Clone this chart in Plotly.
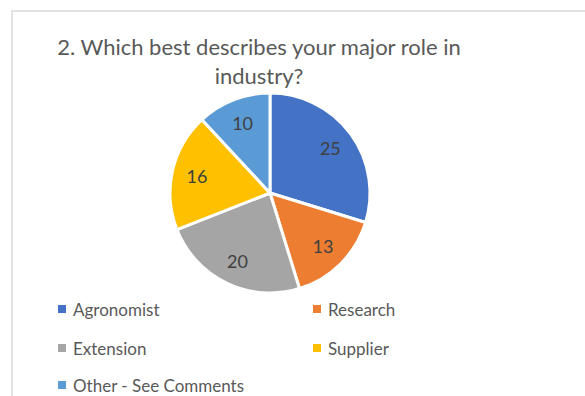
import plotly.graph_objects as go

labels = ["Agronomist", "Research", "Extension", "Supplier", "Other - See Comments"]
values = [25, 13, 20, 16, 10]
colors = ["#4472C4", "#ED7D31", "#A5A5A5", "#FFC000", "#5B9BD5"]
title_text = "2. Which best describes your major role in<br>industry?"

W, H = 585, 396
FONT = "Lato, 'Open Sans', sans-serif"
dom = dict(x=[170 / W, 370 / W], y=[1 - 293 / H, 1 - 93 / H])

fig = go.Figure()
fig.add_trace(go.Pie(
    labels=labels, values=values, sort=False, direction="clockwise", rotation=0,
    marker=dict(colors=colors, line=dict(color="white", width=3)),
    textinfo="none", domain=dom, showlegend=False, hoverinfo="label+value",
))
# label layer: transparent ring so the values sit further out, as in the reference
fig.add_trace(go.Pie(
    labels=labels, values=values, sort=False, direction="clockwise", rotation=0, hole=0.5,
    marker=dict(colors=["rgba(0,0,0,0)"] * len(values), line=dict(width=0)),
    textinfo="value", textposition="inside", insidetextorientation="horizontal",
    textfont=dict(family=FONT, size=18, color="#404040"),
    domain=dom, showlegend=False, hoverinfo="skip",
))

shapes = [dict(type="rect", xref="paper", yref="paper",
               x0=12 / W, x1=1.2, y0=-0.2, y1=1 - 11 / H,
               line=dict(color="#D9D9D9", width=1.5), fillcolor="rgba(0,0,0,0)", layer="below")]
annotations = []
col_x = [62, 317]
row_y = [309, 348, 385]
for i, (lab, col) in enumerate(zip(labels, colors)):
    cx = col_x[i % 2]
    cy = row_y[i // 2]
    shapes.append(dict(type="rect", xref="paper", yref="paper",
                       x0=(cx - 4) / W, x1=(cx + 4) / W,
                       y0=1 - (cy + 4) / H, y1=1 - (cy - 4) / H,
                       fillcolor=col, line=dict(width=0)))
    annotations.append(dict(text=lab, xref="paper", yref="paper",
                            x=(cx + 9) / W, y=1 - cy / H, xanchor="left", yanchor="middle",
                            showarrow=False, font=dict(family=FONT, size=17, color="#595959")))

fig.update_layout(
    width=W, height=H, margin=dict(l=0, r=0, t=0, b=0),
    paper_bgcolor="white", plot_bgcolor="white",
    title=dict(text=title_text, x=259 / W, xanchor="center", y=1 - 55 / H, yanchor="top",
               font=dict(family=FONT, size=22, color="#595959")),
    shapes=shapes, annotations=annotations,
)

fig.write_html("out.html", config={"displayModeBar": False},
               post_script="document.body.style.margin='0';")
